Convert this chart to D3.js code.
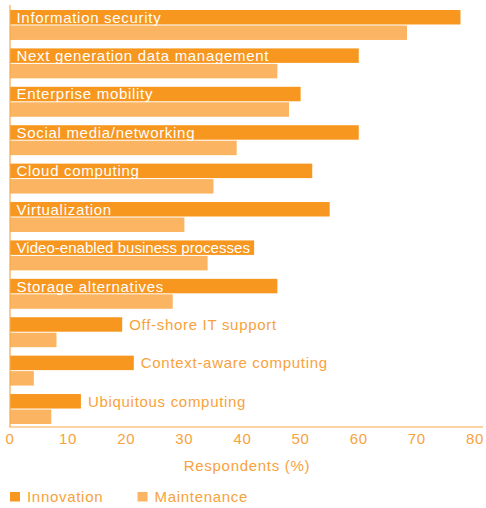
<!DOCTYPE html>
<html>
<head>
<meta charset="utf-8">
<script src="https://cdn.jsdelivr.net/npm/d3@7"></script>
<style>
  html, body { margin: 0; padding: 0; background: #fff; }
  svg { display: block; font-family: "Liberation Sans", Arial, sans-serif; }
  text { font-size: 15px; letter-spacing: 0.7px; }
</style>
</head>
<body>
<script>
"use strict"

const categories = [
  "Information security",
  "Next generation data management",
  "Enterprise mobility",
  "Social media/networking",
  "Cloud computing",
  "Virtualization",
  "Video-enabled business processes",
  "Storage alternatives",
  "Off-shore IT support",
  "Context-aware computing",
  "Ubiquitous computing",
]
const innovation  = [77.5, 60, 50, 60, 52, 55, 42, 46, 19.3, 21.3, 12.2]
const maintenance = [68.3, 46, 48, 39, 35, 30, 34, 28, 8, 4.1, 7.1]
const xTicks      = [0, 10, 20, 30, 40, 50, 60, 70, 80]
const seriesNames = ["Innovation", "Maintenance"]

const colors = { innovation : "#f7971f", maintenance : "#fbb562", text : "#f8a23d", axis : "#f9a849" }

const width  = 486
const height = 508

const svg = d3.select("body").append("svg").attr("width", width).attr("height", height)

const x = d3.scaleLinear().domain([0, 80]).range([10, 475])
const y = d3.scaleBand().domain(categories).range([10, 424]).paddingInner(0.22).paddingOuter(0)
const barH = (y.bandwidth() - 1) / 2

const rows = categories.map((name, i) => ({ name, innovation : innovation[i], maintenance : maintenance[i] }))

const groups = svg.selectAll(".row").data(rows).enter()
  .append("g")
  .attr("class", "row")
  .attr("transform", d => `translate(0 ${y(d.name)})`)

groups.append("rect")
  .attr("x", x(0))
  .attr("y", 0)
  .attr("width", d => x(d.innovation) - x(0))
  .attr("height", barH)
  .attr("fill", colors.innovation)

groups.append("rect")
  .attr("x", x(0))
  .attr("y", barH + 1)
  .attr("width", d => x(d.maintenance) - x(0))
  .attr("height", barH)
  .attr("fill", colors.maintenance)

// labels: inside the innovation bar when (nearly) fitting, else just after it
groups.append("text")
  .text(d => d.name)
  .attr("y", barH - 1.8)
  .each(function (d) {
    const t = d3.select(this)
    const len = this.getComputedTextLength()
    const barW = x(d.innovation) - x(0)
    if (len <= barW * 1.1) {
      t.attr("x", x(0) + 6.5).attr("fill", "#fff")
      if (len + 8 > barW)
        t.attr("textLength", barW - 10).attr("lengthAdjust", "spacing")
    } else {
      t.attr("x", x(d.innovation) + 7).attr("fill", colors.text)
    }
  })

// axis lines
svg.append("line")
  .attr("x1", x(0)).attr("x2", x(0))
  .attr("y1", 5).attr("y2", 427)
  .attr("stroke", colors.axis).attr("stroke-width", 1.2)

svg.append("line")
  .attr("x1", x(0) - 0.6).attr("x2", 483)
  .attr("y1", 427).attr("y2", 427)
  .attr("stroke", colors.axis).attr("stroke-width", 1.2)

svg.selectAll(".tick-label").data(xTicks).enter()
  .append("text")
  .attr("class", "tick-label")
  .attr("x", d => x(d))
  .attr("y", 444)
  .attr("text-anchor", "middle")
  .attr("fill", colors.text)
  .text(d => d)

svg.append("text")
  .attr("x", 247)
  .attr("y", 471)
  .attr("text-anchor", "middle")
  .attr("fill", colors.text)
  .text("Respondents (%)")

// legend
const legendX = [10, 137.5]
const legendColors = [colors.innovation, colors.maintenance]
const legend = svg.selectAll(".legend").data(seriesNames).enter()
  .append("g")
  .attr("class", "legend")
  .attr("transform", (_, i) => `translate(${legendX[i]} 492)`)

legend.append("rect")
  .attr("width", 10).attr("height", 9.5)
  .attr("fill", (_, i) => legendColors[i])

legend.append("text")
  .attr("x", 17)
  .attr("y", 10)
  .attr("fill", colors.text)
  .text(d => d)
</script>
</body>
</html>
